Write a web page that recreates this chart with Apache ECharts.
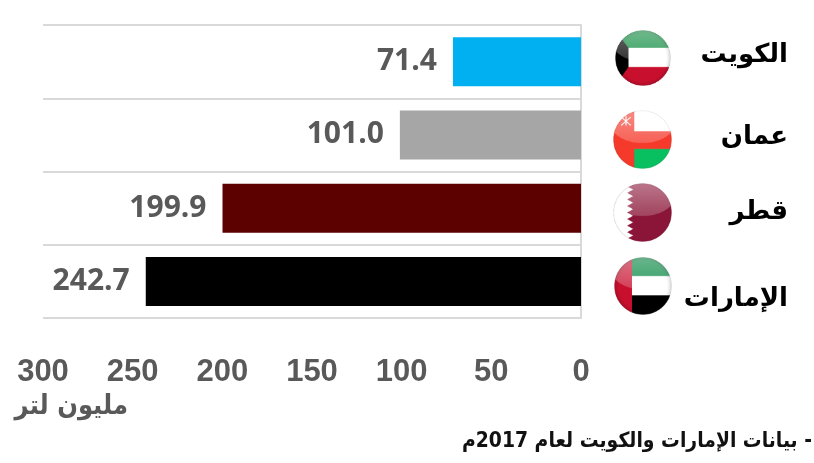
<!DOCTYPE html>
<html><head><meta charset="utf-8">
<style>html,body{margin:0;padding:0;background:#fff}#c{width:814px;height:463px}</style>
<script src="https://cdn.jsdelivr.net/npm/echarts@6/dist/echarts.min.js"></script>
</head><body><div id="c"></div>
<script>
const categories = ['الكويت','عمان','قطر','الإمارات'];
const values = [71.4,101.0,199.9,242.7];
const barColors = ['#00b0f0','#a6a6a6','#5c0000','#000000'];
const xTicks = [0,50,100,150,200,250,300];
const unitLabel = 'مليون لتر';
const footnote = '\u200F- بيانات الإمارات والكويت لعام 2017م';

function flag(draw,edge){
  const S=174, c=document.createElement('canvas'); c.width=c.height=S;
  const g=c.getContext('2d');
  g.save(); g.beginPath(); g.arc(S/2,S/2,S/2-1,0,Math.PI*2); g.clip();
  g.fillStyle='#fff'; g.fillRect(0,0,S,S);
  draw(g,S);
  if(edge){
    let r=g.createRadialGradient(S/2,S/2,S*0.42,S/2,S/2,S/2);
    r.addColorStop(0,'rgba(0,0,0,0)'); r.addColorStop(1,'rgba(0,0,0,0.16)');
    g.fillStyle=r; g.fillRect(0,0,S,S);
  }
  let lg=g.createLinearGradient(0,0,0,S*.56);
  lg.addColorStop(0,'rgba(255,255,255,0.42)'); lg.addColorStop(1,'rgba(255,255,255,0.2)');
  g.fillStyle=lg;
  g.beginPath(); g.ellipse(S/2,S*0.2,S*0.56,S*0.36,0,0,Math.PI*2); g.fill();
  g.restore();
  g.strokeStyle='rgba(0,0,0,0.1)'; g.lineWidth=2;
  g.beginPath(); g.arc(S/2,S/2,S/2-2,0,Math.PI*2); g.stroke();
  return c.toDataURL();
}
const rect=(g,col,x,y,w,h)=>{g.fillStyle=col;g.fillRect(x,y,w,h);};
const flags=[
  flag((g,S)=>{ rect(g,'#0a8a3c',0,0,S,S*.32); rect(g,'#fff',0,S*.32,S,S*.34); rect(g,'#c8102e',0,S*.66,S,S*.34);
    g.fillStyle='#000';g.beginPath();g.moveTo(0,0);g.lineTo(S*.24,S*.32);g.lineTo(S*.24,S*.66);g.lineTo(0,S);g.fill();},true),
  flag((g,S)=>{ rect(g,'#fff',0,0,S,S*.36); rect(g,'#f53a2c',0,S*.36,S,S*.3); rect(g,'#08c060',0,S*.66,S,S*.34); rect(g,'#f53a2c',0,0,S*.36,S);
    g.strokeStyle='#fff';g.lineWidth=3;g.beginPath();g.moveTo(S*.14,S*.12);g.lineTo(S*.3,S*.26);g.moveTo(S*.3,S*.12);g.lineTo(S*.14,S*.26);g.moveTo(S*.22,S*.1);g.lineTo(S*.22,S*.26);g.stroke();},false),
  flag((g,S)=>{ rect(g,'#8a1538',0,0,S,S); g.fillStyle='#fff'; g.beginPath(); g.moveTo(0,0); g.lineTo(S*.34,0);
    const n=9; for(let i=0;i<n;i++){ g.lineTo(S*.24,(i+.5)*S/n); g.lineTo(S*.34,(i+1)*S/n);} g.lineTo(0,S); g.fill();},false),
  flag((g,S)=>{ rect(g,'#00843d',0,0,S,S*.33); rect(g,'#fff',0,S*.33,S,S*.33); rect(g,'#000',0,S*.66,S,S*.34); rect(g,'#c8102e',0,0,S*.31,S);},true)
];
const flagBoxes=[[615,30,56],[613,110,59],[613,183,59],[614,257,58]];

const chart=echarts.init(document.getElementById('c'));
const catStyle={fontFamily:'"DejaVu Sans"',fontWeight:'bold',fontSize:26,color:'#000',align:'right'};
chart.setOption({
  animation:false,
  backgroundColor:'#fff',
  grid:{left:43,right:233,top:25,height:293,containLabel:false},
  xAxis:{type:'value',inverse:true,min:0,max:300,interval:50,position:'bottom',
    axisLine:{show:false},axisTick:{show:false},splitLine:{show:false},
    axisLabel:{margin:39,formatter:v=>xTicks.includes(v)?String(v):'',color:'#595959',fontFamily:'"Liberation Sans"',fontWeight:'bold',fontSize:31,hideOverlap:false}},
  yAxis:{type:'category',inverse:true,data:categories,position:'right',
    axisTick:{show:false},
    axisLine:{show:true,lineStyle:{color:'#d9d9d9',width:2}},
    splitLine:{show:true,lineStyle:{color:'#d9d9d9',width:2}},
    axisLabel:{margin:0,align:'right',color:'#000',
      formatter:(v,i)=>'{c'+i+'|'+v+'}',
      rich:{
        c0:{...catStyle,padding:[0,-207,13,0]},
        c1:{...catStyle,padding:[5,-207,0,0]},
        c2:{...catStyle,padding:[9,-207,0,0]},
        c3:{...catStyle,padding:[36,-207,0,0]}
      }}},
  series:[{type:'bar',barWidth:49,
    data:values.map((v,i)=>({value:v,itemStyle:{color:barColors[i]}})),
    label:{show:true,position:'left',distance:16,color:'#595959',fontFamily:'"Open Sans"',fontWeight:'bold',fontSize:30,formatter:p=>p.value.toFixed(1)}}],
  graphic:[
    ...flags.map((src,i)=>({type:'image',silent:true,style:{image:src,x:flagBoxes[i][0],y:flagBoxes[i][1],width:flagBoxes[i][2],height:flagBoxes[i][2]}})),
    {type:'text',x:128,y:407,scaleX:0.9,silent:true,style:{text:unitLabel,x:0,y:0,align:'right',verticalAlign:'middle',fill:'#595959',font:'bold 27px "DejaVu Sans"'}},
    {type:'text',x:812,y:442,scaleX:0.895,silent:true,style:{text:footnote,x:0,y:0,align:'right',verticalAlign:'middle',fill:'#111',font:'bold 21px "DejaVu Sans"'}}
  ]
});
</script></body></html>
